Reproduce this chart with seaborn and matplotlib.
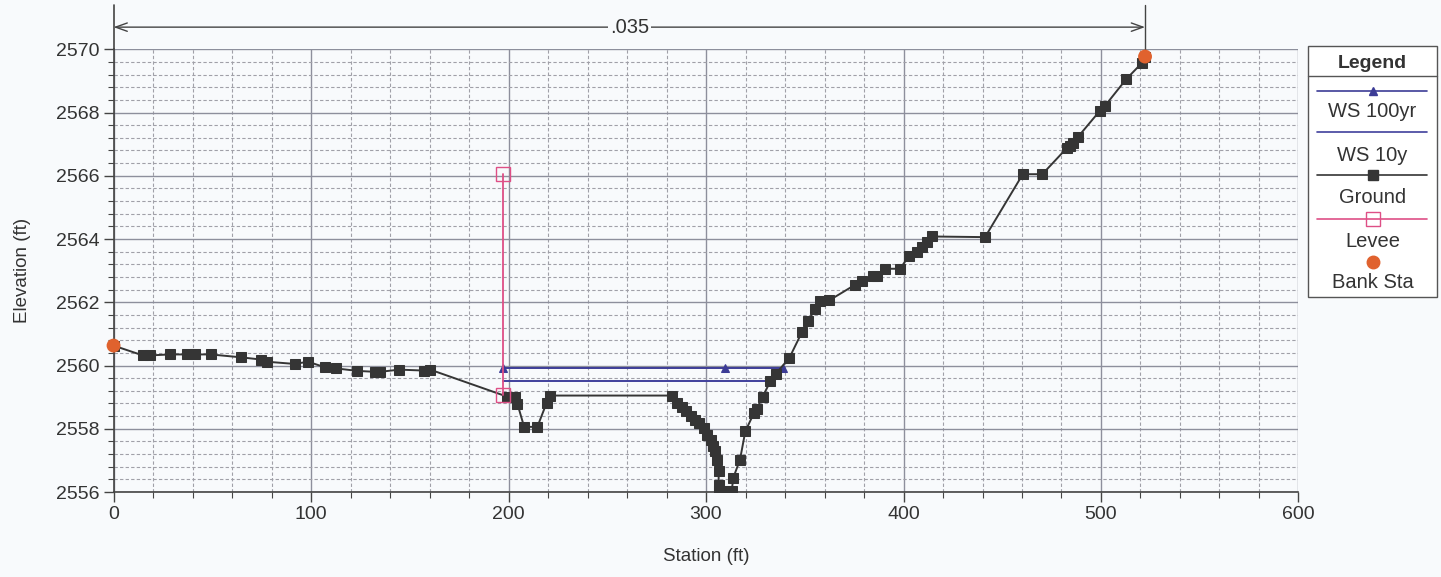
import matplotlib
matplotlib.use("Agg")
import matplotlib.pyplot as plt
import seaborn as sns
import pandas as pd
from matplotlib.lines import Line2D
from matplotlib.patches import Rectangle
from matplotlib.ticker import MultipleLocator

# Ground survey points (station ft, elevation ft), bank to bank
ground_sta = [0.0, 14.8, 18.5, 28.6, 37.4, 41.3, 49.2, 64.4, 74.5, 77.6, 91.7, 98.5,
              107.2, 112.5, 123.4, 132.6, 134.9, 144.7, 157.2, 160.3,
              199.1, 203.3, 204.5, 207.9, 214.6, 219.3, 221.0,
              282.6, 285.5, 287.7, 289.9, 292.2, 294.4, 296.6, 299.0, 300.4,
              302.4, 303.7, 304.7, 305.7, 306.4, 306.4, 306.7, 309.6, 313.0,
              313.8, 317.2, 319.9, 324.3, 325.7, 328.7, 332.6, 335.2,
              342.2, 348.6, 351.8, 355.2, 357.7, 362.4, 375.4, 378.8, 384.4,
              386.7, 390.6, 398.2, 402.9, 406.7, 409.2, 411.7, 414.3,
              441.3, 460.4, 470.3, 482.6, 484.3, 486.0, 488.5, 499.5, 502.0,
              512.7, 520.6, 522.3]
ground_elev = [2560.63, 2560.32, 2560.32, 2560.35, 2560.35, 2560.35, 2560.35, 2560.26,
               2560.19, 2560.12, 2560.05, 2560.12, 2559.94, 2559.91, 2559.83,
               2559.80, 2559.80, 2559.87, 2559.84, 2559.87,
               2559.02, 2559.02, 2558.79, 2558.06, 2558.06, 2558.82, 2559.05,
               2559.05, 2558.83, 2558.69, 2558.55, 2558.39, 2558.29, 2558.18,
               2558.02, 2557.81, 2557.66, 2557.47, 2557.29, 2557.02, 2556.65,
               2556.23, 2556.02, 2556.02, 2556.02, 2556.45, 2557.02, 2557.92,
               2558.50, 2558.63, 2559.02, 2559.50, 2559.73,
               2560.24, 2561.06, 2561.42, 2561.78, 2562.03, 2562.06, 2562.55,
               2562.66, 2562.82, 2562.84, 2563.06, 2563.06, 2563.47, 2563.60,
               2563.76, 2563.92, 2564.08, 2564.06, 2566.05, 2566.05, 2566.87,
               2566.94, 2567.05, 2567.24, 2568.06, 2568.21, 2569.05, 2569.56, 2569.77]

# Bank stations
bank_sta = [0.0, 522.3]
bank_elev = [2560.63, 2569.77]

# Levee
levee_sta = [197.4, 197.4]
levee_elev = [2559.08, 2566.06]

# Water surfaces
ws100_sta = [197.4, 309.6, 338.9]
ws100_elev = [2559.93, 2559.93, 2559.93]
ws10_sta = [197.4, 332.6]
ws10_elev = [2559.52, 2559.52]

mannings_n = ".035"
legend_labels = ["WS 100yr", "WS 10y", "Ground", "Levee", "Bank Sta"]

c_ground = "#353535"
c_ws100 = "#3c3c96"
c_ws10 = "#40409c"
c_levee = "#de4f86"
c_bank = "#e0622e"
bg = "#f8fafc"
txt = "#333333"

sns.set_theme(style="white")
plt.rcParams["font.family"] = ["Liberation Sans", "DejaVu Sans"]

fig = plt.figure(figsize=(14.41, 5.77), dpi=100, facecolor=bg)
ax = fig.add_axes([0.0788, 0.1473, 0.9011 - 0.0788, 0.9146 - 0.1473])
ax.set_facecolor(bg)

ax.set_xlim(0, 600)
ax.set_ylim(2556, 2570)
ax.xaxis.set_major_locator(MultipleLocator(100))
ax.xaxis.set_minor_locator(MultipleLocator(20))
ax.yaxis.set_major_locator(MultipleLocator(2))
ax.yaxis.set_minor_locator(MultipleLocator(0.4))
ax.grid(which="major", color="#8d8f9c", linewidth=1.0, linestyle="-")
ax.grid(which="minor", color="#a0a0a8", linewidth=0.8, linestyle=(0, (3, 2)))
ax.set_axisbelow(True)
for s in ["top", "right"]:
    ax.spines[s].set_visible(False)
for s in ["left", "bottom"]:
    ax.spines[s].set_color("#444444")
    ax.spines[s].set_linewidth(1.2)
ax.tick_params(which="major", direction="out", length=7, width=1, color="#444444",
               labelsize=14, labelcolor=txt, left=True, bottom=True, pad=3)
ax.tick_params(which="minor", direction="out", length=4, width=0.8, color="#444444",
               left=True, bottom=True)

df_ground = pd.DataFrame({"sta": ground_sta, "elev": ground_elev})
sns.lineplot(data=df_ground, x="sta", y="elev", sort=False, estimator=None,
             color=c_ground, linewidth=1.4, marker="s", markersize=7.5,
             markeredgecolor=c_ground, ax=ax, zorder=4)

df_ws100 = pd.DataFrame({"sta": ws100_sta, "elev": ws100_elev})
sns.lineplot(data=df_ws100, x="sta", y="elev", sort=False, estimator=None,
             color=c_ws100, linewidth=1.4, marker="^", markersize=6,
             markeredgecolor=c_ws100, ax=ax, zorder=3)

df_ws10 = pd.DataFrame({"sta": ws10_sta, "elev": ws10_elev})
sns.lineplot(data=df_ws10, x="sta", y="elev", sort=False, estimator=None,
             color=c_ws10, linewidth=1.4, ax=ax, zorder=3)

df_levee = pd.DataFrame({"sta": levee_sta, "elev": levee_elev})
sns.lineplot(data=df_levee, x="sta", y="elev", sort=False, estimator=None,
             color=c_levee, linewidth=1.3, marker="s", markersize=10,
             markerfacecolor="none", markeredgecolor=c_levee,
             markeredgewidth=1.0, ax=ax, zorder=5)

df_bank = pd.DataFrame({"sta": bank_sta, "elev": bank_elev})
sns.scatterplot(data=df_bank, x="sta", y="elev", color=c_bank, s=100,
                edgecolor="none", ax=ax, zorder=6, clip_on=False)

ax.set_xlabel("Station (ft)", fontsize=13.5, color=txt, labelpad=18)
ax.set_ylabel("Elevation (ft)", fontsize=13.5, color=txt, labelpad=18)

# Manning's n span between bank stations, drawn above the plot area
top_y = 2571.4
arrow_y = 2570.7
ax.plot([0, 0], [2570, top_y], color="#444444", lw=1.2, clip_on=False)
ax.plot([bank_sta[1], bank_sta[1]], [bank_elev[1], top_y], color="#444444",
        lw=1.0, clip_on=False)
ax.annotate("", xy=(0, arrow_y), xytext=(bank_sta[1], arrow_y),
            arrowprops=dict(arrowstyle="<->,head_length=0.7,head_width=0.25",
                            color="#444444", lw=1.0, shrinkA=0, shrinkB=0),
            annotation_clip=False)
ax.text(sum(bank_sta) / 2, arrow_y, mannings_n, ha="center", va="center",
        fontsize=14.5, color=txt, clip_on=False,
        bbox=dict(facecolor=bg, edgecolor="none", pad=1.5))

# Legend panel
W, H = 1441.0, 577.0
def fx(px):
    return px / W
def fy(py):
    return 1 - py / H

lx0, lx1, ly0, ly1 = 1308, 1437, 46, 297
fig.patches.append(Rectangle((fx(lx0), fy(ly1)), fx(lx1) - fx(lx0), fy(ly0) - fy(ly1),
                             transform=fig.transFigure, facecolor="white",
                             edgecolor="#555555", linewidth=1.0))
fig.lines.append(Line2D([fx(lx0), fx(lx1)], [fy(76), fy(76)], transform=fig.transFigure,
                        color="#555555", lw=1.0))
cx = (lx0 + lx1) / 2
fig.text(fx(cx), fy(68.5), "Legend", ha="center", va="baseline", fontsize=14,
         fontweight="bold", color=txt)

entry_line_y = [91, 132, 175, 219, 262]
entry_baseline_y = [117, 161, 203, 247, 288]
styles = [
    dict(color=c_ws100, marker="^", ms=6, mfc=c_ws100, mec=c_ws100, show_line=True),
    dict(color=c_ws10, marker=None, ms=0, mfc=c_ws10, mec=c_ws10, show_line=True),
    dict(color=c_ground, marker="s", ms=7, mfc=c_ground, mec=c_ground, show_line=True),
    dict(color=c_levee, marker="s", ms=10, mfc="none", mec=c_levee, show_line=True),
    dict(color=c_bank, marker="o", ms=9, mfc=c_bank, mec=c_bank, show_line=False),
]
for lab, yl, yt, st in zip(legend_labels, entry_line_y, entry_baseline_y, styles):
    if st["show_line"]:
        fig.lines.append(Line2D([fx(1317), fx(1427)], [fy(yl), fy(yl)],
                                transform=fig.transFigure, color=st["color"], lw=1.2))
    if st["marker"]:
        fig.lines.append(Line2D([fx(cx)], [fy(yl)], transform=fig.transFigure,
                                linestyle="none", marker=st["marker"], markersize=st["ms"],
                                markerfacecolor=st["mfc"], markeredgecolor=st["mec"]))
    fig.text(fx(cx), fy(yt), lab, ha="center", va="baseline", fontsize=14.5, color=txt)

fig.savefig("out.png", dpi=100, facecolor=bg)
